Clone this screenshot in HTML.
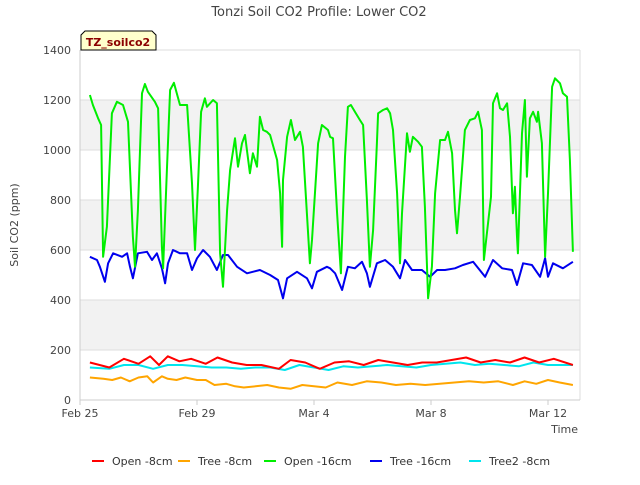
<!DOCTYPE html>
<html><head><meta charset="utf-8"><style>
body{margin:0;background:#fff;font-family:"Liberation Sans","DejaVu Sans",sans-serif}
svg text{font-family:"DejaVu Sans","Liberation Sans",sans-serif}
</style></head><body>
<svg id="c" width="640" height="480" xmlns="http://www.w3.org/2000/svg">
<text x="319" y="16" text-anchor="middle" font-size="13" fill="#444">Tonzi Soil CO2 Profile: Lower CO2</text>
<text x="18" y="225" text-anchor="middle" font-size="11" fill="#444" transform="rotate(-90 18 225)">Soil CO2 (ppm)</text>
<text x="578" y="433" text-anchor="end" font-size="11" fill="#444">Time</text>
<g id="grid"></g><g id="series"></g><g id="axes"></g>
<g>
<path d="M81,50 L81,35 L85,31 L152,31 L156,35 L156,50 Z" fill="#ffffcc" stroke="#000" stroke-width="1"/>
<text x="118" y="46" text-anchor="middle" font-size="11" font-weight="bold" fill="#8b0000">TZ_soilco2</text>
</g>
<g id="legend"></g>
</svg>
<script>
const greenT=[0.34,0.44,0.62,0.72,0.79,0.92,1.09,1.26,1.47,1.64,1.81,1.88,1.98,2.12,2.22,2.32,2.56,2.67,2.80,2.84,2.97,3.08,3.21,3.42,3.66,3.83,3.93,4.03,4.14,4.27,4.34,4.55,4.68,4.79,4.89,5.03,5.13,5.30,5.40,5.54,5.64,5.81,5.91,6.05,6.15,6.26,6.39,6.50,6.74,6.84,6.91,6.94,7.08,7.21,7.35,7.52,7.62,7.86,7.93,8.14,8.27,8.48,8.55,8.65,8.79,8.92,8.99,9.06,9.16,9.26,9.40,9.57,9.68,9.81,9.91,10.02,10.15,10.19,10.36,10.50,10.60,10.70,10.84,10.94,11.01,11.18,11.28,11.38,11.56,11.69,11.79,11.90,12.03,12.14,12.31,12.48,12.58,12.72,12.82,12.89,12.99,13.16,13.33,13.50,13.61,13.74,13.81,13.91,14.05,14.12,14.26,14.36,14.46,14.60,14.70,14.80,14.87,14.94,14.97,15.11,15.21,15.28,15.38,15.49,15.62,15.66,15.79,15.90,16.00,16.14,16.24,16.41,16.51,16.65,16.75,16.85];
const greenV=[1220,1180,1127,1100,573,693,1147,1193,1180,1113,653,533,760,1227,1264,1233,1193,1167,613,527,920,1240,1269,1180,1180,867,600,853,1153,1207,1173,1200,1187,587,453,760,920,1047,933,1027,1060,907,987,933,1133,1080,1073,1060,960,827,613,880,1053,1120,1040,1073,1013,547,640,1027,1100,1080,1053,1047,747,507,747,973,1173,1180,1153,1120,1100,800,533,680,1027,1147,1160,1167,1147,1080,827,547,747,1067,993,1053,1033,1013,773,407,533,827,1040,1040,1073,987,760,667,813,1080,1120,1127,1153,1080,560,667,813,1187,1227,1167,1160,1187,1053,747,853,653,587,1067,1200,893,1127,1153,1113,1153,1027,573,827,1253,1287,1267,1227,1213,960,593];
const blueT=[0.34,0.58,0.68,0.85,0.96,1.13,1.44,1.61,1.71,1.81,1.98,2.29,2.46,2.63,2.80,2.91,3.01,3.18,3.42,3.66,3.83,4.0,4.21,4.44,4.68,4.89,5.06,5.37,5.71,6.15,6.50,6.77,6.94,7.08,7.42,7.76,7.93,8.10,8.44,8.55,8.72,8.96,9.16,9.40,9.64,9.81,9.91,10.15,10.43,10.70,10.94,11.11,11.35,11.69,11.97,12.21,12.48,12.82,13.09,13.44,13.85,14.12,14.43,14.77,14.94,15.15,15.45,15.73,15.90,16.0,16.17,16.51,16.85];
const blueV=[573,560,533,473,547,587,573,587,533,487,587,593,560,587,527,467,547,600,587,587,520,567,600,573,520,580,580,533,507,520,500,480,407,487,513,487,447,513,533,527,507,440,533,527,553,507,453,547,560,533,487,560,520,520,493,520,520,527,540,553,493,560,527,520,460,547,540,493,567,493,547,527,553];
const redT=[0,0.34,1.0,1.5,2.0,2.4,2.7,3.0,3.4,3.8,4.3,4.7,5.2,5.7,6.2,6.8,7.2,7.7,8.2,8.7,9.2,9.7,10.2,10.7,11.2,11.7,12.2,12.7,13.2,13.7,14.2,14.7,15.2,15.7,16.2,16.85];
const redV=[null,150,130,165,145,175,140,175,155,165,145,170,150,140,140,125,160,150,125,150,155,140,160,150,140,150,150,160,170,150,160,150,170,150,165,140];
const orangeT=[0.34,0.8,1.1,1.4,1.7,2.0,2.3,2.5,2.8,3.0,3.3,3.6,4.0,4.3,4.6,5.0,5.3,5.6,6.0,6.4,6.8,7.2,7.6,8.0,8.4,8.8,9.3,9.8,10.3,10.8,11.3,11.8,12.3,12.8,13.3,13.8,14.3,14.8,15.2,15.6,16.0,16.4,16.85];
const orangeV=[90,85,80,90,75,90,95,70,95,85,80,90,80,80,60,65,55,50,55,60,50,45,60,55,50,70,60,75,70,60,65,60,65,70,75,70,75,60,75,65,80,70,60];
const cyanT=[0.34,1.0,1.5,2.0,2.5,3.0,3.5,4.0,4.5,5.0,5.5,6.0,6.5,7.0,7.5,8.0,8.5,9.0,9.5,10.0,10.5,11.0,11.5,12.0,12.5,13.0,13.5,14.0,14.5,15.0,15.5,16.0,16.85];
const cyanV=[130,125,140,140,125,140,140,135,130,130,125,130,130,120,140,130,120,135,130,135,140,135,130,140,145,150,140,145,140,135,150,140,140];
const yTicks=[0,200,400,600,800,1000,1200,1400];
const xTickDays=[0,4,8,12,16];
const xTickLabels=["Feb 25","Feb 29","Mar 4","Mar 8","Mar 12"];
const NS='http://www.w3.org/2000/svg';
const L=80,R=580,T=50,B=400;
const xs=d=>L+d*29.25;
const ys=v=>B-(v/1400)*(B-T);
function mk(tag,at,parent){const e=document.createElementNS(NS,tag);for(const k in at)e.setAttribute(k,at[k]);parent.appendChild(e);return e;}
const grid=document.getElementById('grid'),axes=document.getElementById('axes'),ser=document.getElementById('series'),leg=document.getElementById('legend');
for(let i=0;i<yTicks.length-1;i++){
 if(i%2===1){const r=mk('rect',{x:L,y:ys(yTicks[i+1]),width:R-L,height:ys(yTicks[i])-ys(yTicks[i+1]),fill:'#f2f2f2'},grid);
 
 }
}
yTicks.forEach(v=>{
 const l=mk('line',{x1:L,x2:R,y1:ys(v),y2:ys(v),stroke:'#ddd','stroke-width':1},grid);
 
 
 const t=mk('text',{x:L-9,y:ys(v)+4,'text-anchor':'end','font-size':11,fill:'#444'},axes);t.textContent=v;
 
 
});
mk('line',{x1:R,x2:R,y1:T,y2:B,stroke:'#ddd'},grid);
const ax=mk('path',{d:`M${L},${T}V${B}H${R}`,fill:'none',stroke:'#ccc','stroke-width':1},axes);


xTickDays.forEach((d,i)=>{
 mk('line',{x1:xs(d),x2:xs(d),y1:B,y2:B+5,stroke:'#ccc'},axes);
 const t=mk('text',{x:xs(d),y:B+17,'text-anchor':'middle','font-size':11,fill:'#444'},axes);t.textContent=xTickLabels[i];
 
 
});
function line(T_,V,color,name){
 let d='';T_.forEach((t,i)=>{if(V[i]==null)return;d+=(d?'L':'M')+xs(t).toFixed(1)+','+ys(V[i]).toFixed(1);});
 const p=mk('path',{d:d,fill:'none',stroke:color,'stroke-width':2,'stroke-linejoin':'round'},ser);
 
 
}
line(orangeT,orangeV,'#ffa500','series-tree-8cm');
line(cyanT,cyanV,'#00e5ee','series-tree2-8cm');
line(redT,redV,'#ff0000','series-open-8cm');
line(blueT,blueV,'#0000ee','series-tree-16cm');
line(greenT,greenV,'#00ee00','series-open-16cm');
const legNames=['Open -8cm','Tree -8cm','Open -16cm','Tree -16cm','Tree2 -8cm'];
const legColors=['#ff0000','#ffa500','#00ee00','#0000ee','#00e5ee'];
const legX=[92,178,264,370,469];
legNames.forEach((n,i)=>{
 const g=mk('g',{},leg);
 
 
 mk('line',{x1:legX[i],x2:legX[i]+12,y1:461,y2:461,stroke:legColors[i],'stroke-width':2},g);
 const t=mk('text',{x:legX[i]+20,y:465,'font-size':11,fill:'#333'},g);t.textContent=n;
});
</script>
</body></html>
